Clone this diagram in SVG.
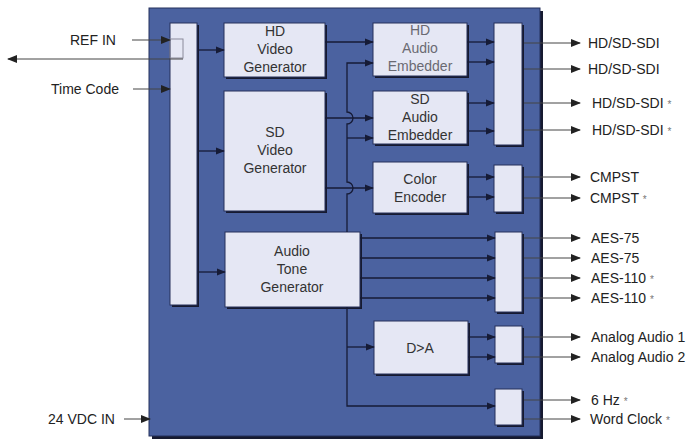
<svg xmlns="http://www.w3.org/2000/svg" width="693" height="443" viewBox="0 0 693 443">
<defs>
<style>
text{font-family:"Liberation Sans",Arial,sans-serif;font-size:14px;fill:#222}
.bt{fill:#333;text-anchor:middle}
.faint{fill:#6a6a72}
.st{font-size:10px;fill:#777}
.box{fill:#e5e7f4;stroke:#27305a;stroke-width:1}
.shadow{fill:#161a30}
.in{fill:none;stroke:#161b36;stroke-width:1.3}
.out{fill:none;stroke:#444;stroke-width:1}
</style>
<marker id="ah" viewBox="0 0 10 8" markerUnits="userSpaceOnUse" markerWidth="9" markerHeight="8" refX="9" refY="4" orient="auto"><path d="M0,0 L10,4 L0,8 z" fill="#161b36"/></marker>
<marker id="ao" viewBox="0 0 10 8" markerUnits="userSpaceOnUse" markerWidth="10" markerHeight="8" refX="9" refY="4" orient="auto"><path d="M0,0 L10,4 L0,8 z" fill="#222"/></marker>
</defs>
<rect width="693" height="443" fill="#fff"/>
<g id="main-unit">
<rect class="shadow" x="152" y="11" width="391" height="428"/>
<rect x="149" y="8" width="391" height="428" fill="#4b62a0" stroke="#25305c" stroke-width="1"/>
</g>
<g id="input-bus"><rect class="shadow" x="172" y="25" width="27" height="282"/><rect class="box" x="170" y="23" width="27" height="282"/><rect x="170" y="39" width="13" height="19" fill="none" stroke="#8a8a9a" stroke-width="1"/></g>
<g id="hd-video-generator"><rect class="shadow" x="226" y="25" width="101" height="54"/><rect class="box" x="224" y="23" width="101" height="54"/><text class="bt" x="275" y="36">HD</text><text class="bt" x="275" y="54">Video</text><text class="bt" x="275" y="72">Generator</text></g>
<g id="sd-video-generator"><rect class="shadow" x="226" y="93" width="101" height="120"/><rect class="box" x="224" y="91" width="101" height="120"/><text class="bt" x="275" y="137">SD</text><text class="bt" x="275" y="155">Video</text><text class="bt" x="275" y="173">Generator</text></g>
<g id="audio-tone-generator"><rect class="shadow" x="227" y="234" width="135" height="75"/><rect class="box" x="225" y="232" width="135" height="75"/><text class="bt" x="292" y="256">Audio</text><text class="bt" x="292" y="274">Tone</text><text class="bt" x="292" y="292">Generator</text></g>
<g id="hd-audio-embedder"><rect class="shadow" x="375" y="25" width="94" height="53"/><rect class="box" x="373" y="23" width="94" height="53"/><text class="bt faint" x="420" y="35">HD</text><text class="bt faint" x="420" y="53">Audio</text><text class="bt faint" x="420" y="71">Embedder</text></g>
<g id="sd-audio-embedder"><rect class="shadow" x="375" y="93" width="94" height="53"/><rect class="box" x="373" y="91" width="94" height="53"/><text class="bt" x="420" y="104">SD</text><text class="bt" x="420" y="122">Audio</text><text class="bt" x="420" y="140">Embedder</text></g>
<g id="color-encoder"><rect class="shadow" x="375" y="164" width="94" height="51"/><rect class="box" x="373" y="162" width="94" height="51"/><text class="bt" x="420" y="184">Color</text><text class="bt" x="420" y="202">Encoder</text></g>
<g id="d-a-converter"><rect class="shadow" x="376" y="323" width="94" height="53"/><rect class="box" x="374" y="321" width="94" height="53"/><text class="bt" x="420" y="353">D&gt;A</text></g>
<g id="sdi-out-bar"><rect class="shadow" x="496" y="25" width="28" height="122"/><rect class="box" x="494" y="23" width="28" height="122"/></g>
<g id="cmpst-out-bar"><rect class="shadow" x="496" y="167" width="28" height="47"/><rect class="box" x="494" y="165" width="28" height="47"/></g>
<g id="aes-out-bar"><rect class="shadow" x="497" y="234" width="27" height="80"/><rect class="box" x="495" y="232" width="27" height="80"/></g>
<g id="analog-out-bar"><rect class="shadow" x="497" y="328" width="27" height="37"/><rect class="box" x="495" y="326" width="27" height="37"/></g>
<g id="clock-out-bar"><rect class="shadow" x="497" y="391" width="27" height="36"/><rect class="box" x="495" y="389" width="27" height="36"/></g>
<g id="connectors">
<line class="out" x1="132" y1="40" x2="170" y2="40" marker-end="url(#ao)"/>
<line class="out" x1="183" y1="59" x2="8" y2="59" marker-end="url(#ao)"/>
<line class="out" x1="133" y1="89" x2="170" y2="89" marker-end="url(#ao)"/>
<line class="out" x1="124" y1="419" x2="150" y2="419" marker-end="url(#ao)"/>
<line class="in" x1="199" y1="50" x2="224" y2="50" marker-end="url(#ah)"/>
<line class="in" x1="199" y1="151" x2="224" y2="151" marker-end="url(#ah)"/>
<line class="in" x1="199" y1="272" x2="225" y2="272" marker-end="url(#ah)"/>
<line class="in" x1="325" y1="42" x2="373" y2="42" marker-end="url(#ah)"/>
<line class="in" x1="325" y1="118" x2="373" y2="118" marker-end="url(#ah)"/>
<line class="in" x1="325" y1="188" x2="373" y2="188" marker-end="url(#ah)"/>
<path class="in" d="M347,232 V194 A6,6 0 0 0 347,182 V124 A6,6 0 0 0 347,112 V63 H373" marker-end="url(#ah)"/>
<line class="in" x1="347" y1="138" x2="373" y2="138" marker-end="url(#ah)"/>
<path class="in" d="M347,307 V406 H495" marker-end="url(#ah)"/>
<line class="in" x1="347" y1="347" x2="374" y2="347" marker-end="url(#ah)"/>
<line class="in" x1="467" y1="42" x2="494" y2="42" marker-end="url(#ah)"/>
<line class="in" x1="467" y1="62" x2="494" y2="62" marker-end="url(#ah)"/>
<line class="in" x1="467" y1="103" x2="494" y2="103" marker-end="url(#ah)"/>
<line class="in" x1="467" y1="131" x2="494" y2="131" marker-end="url(#ah)"/>
<line class="in" x1="467" y1="177" x2="494" y2="177" marker-end="url(#ah)"/>
<line class="in" x1="467" y1="197" x2="494" y2="197" marker-end="url(#ah)"/>
<line class="in" x1="360" y1="238" x2="495" y2="238" marker-end="url(#ah)"/>
<line class="in" x1="360" y1="258" x2="495" y2="258" marker-end="url(#ah)"/>
<line class="in" x1="360" y1="278" x2="495" y2="278" marker-end="url(#ah)"/>
<line class="in" x1="360" y1="298" x2="495" y2="298" marker-end="url(#ah)"/>
<line class="in" x1="468" y1="337" x2="495" y2="337" marker-end="url(#ah)"/>
<line class="in" x1="468" y1="357" x2="495" y2="357" marker-end="url(#ah)"/>
<line class="out" x1="524" y1="43" x2="580" y2="43" marker-end="url(#ao)"/>
<line class="out" x1="524" y1="69" x2="580" y2="69" marker-end="url(#ao)"/>
<line class="out" x1="524" y1="103" x2="580" y2="103" marker-end="url(#ao)"/>
<line class="out" x1="524" y1="130" x2="580" y2="130" marker-end="url(#ao)"/>
<line class="out" x1="524" y1="177" x2="580" y2="177" marker-end="url(#ao)"/>
<line class="out" x1="524" y1="198" x2="580" y2="198" marker-end="url(#ao)"/>
<line class="out" x1="524" y1="238" x2="580" y2="238" marker-end="url(#ao)"/>
<line class="out" x1="524" y1="258" x2="580" y2="258" marker-end="url(#ao)"/>
<line class="out" x1="524" y1="278" x2="580" y2="278" marker-end="url(#ao)"/>
<line class="out" x1="524" y1="298" x2="580" y2="298" marker-end="url(#ao)"/>
<line class="out" x1="524" y1="337" x2="580" y2="337" marker-end="url(#ao)"/>
<line class="out" x1="524" y1="357" x2="580" y2="357" marker-end="url(#ao)"/>
<line class="out" x1="524" y1="400" x2="580" y2="400" marker-end="url(#ao)"/>
<line class="out" x1="524" y1="419" x2="580" y2="419" marker-end="url(#ao)"/>
</g>
<g id="labels">
<text x="70" y="45">REF IN</text>
<text x="51" y="94">Time Code</text>
<text x="48" y="424">24 VDC IN</text>
<text x="588" y="48">HD/SD-SDI</text>
<text x="588" y="74">HD/SD-SDI</text>
<text x="592" y="108">HD/SD-SDI <tspan class="st">*</tspan></text>
<text x="592" y="135">HD/SD-SDI <tspan class="st">*</tspan></text>
<text x="590" y="182">CMPST</text>
<text x="590" y="203">CMPST <tspan class="st">*</tspan></text>
<text x="591" y="243">AES-75</text>
<text x="591" y="263">AES-75</text>
<text x="591" y="283">AES-110 <tspan class="st">*</tspan></text>
<text x="591" y="303">AES-110 <tspan class="st">*</tspan></text>
<text x="591" y="342">Analog Audio 1</text>
<text x="591" y="362">Analog Audio 2</text>
<text x="591" y="405">6 Hz <tspan class="st">*</tspan></text>
<text x="590" y="424">Word Clock <tspan class="st">*</tspan></text>
</g>
</svg>
